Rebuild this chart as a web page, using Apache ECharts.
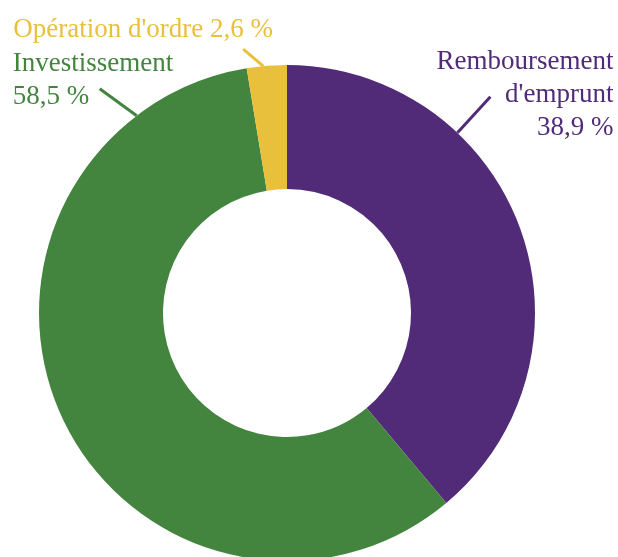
<!DOCTYPE html>
<html>
<head>
<meta charset="utf-8">
<script src="https://cdn.jsdelivr.net/npm/echarts@6/dist/echarts.min.js"></script>
<style>
html,body{margin:0;padding:0;background:#fff;}
#chart{width:618px;height:557px;}
</style>
</head>
<body>
<div id="chart"></div>
<script>
// ---- data ----
const categories = ["Remboursement\nd'emprunt", "Investissement", "Opération d'ordre"];
const values = [38.9, 58.5, 2.6];
const colors = ['#512b77', '#43843f', '#e9c03b'];

// ---- layout (label leader lines & label placement) ----
const CENTER = [287, 313];
const RADIUS = [124, 248];
const anchorAngles = [43.4, 322.7, 354.5];          // degrees clockwise from top, on outer rim
const lineVectors = [[33, -36], [-37, -27], [-20, -17]];
const labelOffsets = [[123, -2], [-87, -8], [-230, -19]];
const labelAligns = ['right', 'left', 'left'];
const labelSeparators = ['\n', '\n', ' '];
const LINE_WIDTH = 3;

function fmt(v) { return v.toFixed(1).replace('.', ',') + ' %'; }

const chart = echarts.init(document.getElementById('chart'), null, {renderer: 'canvas'});
chart.setOption({
  animation: false,
  backgroundColor: '#ffffff',
  series: [{
    type: 'pie',
    center: CENTER,
    radius: RADIUS,
    startAngle: 90,
    clockwise: true,
    avoidLabelOverlap: false,
    itemStyle: {borderWidth: 0},
    label: {
      show: true,
      position: 'outside',
      overflow: 'none',
      fontFamily: 'Liberation Serif',
      fontSize: 27,
      lineHeight: 33,
      formatter: function (p) {
        return p.name + labelSeparators[p.dataIndex] + fmt(p.value);
      }
    },
    labelLine: {show: true, length: 20, length2: 0, lineStyle: {width: LINE_WIDTH}},
    labelLayout: function (params) {
      const i = params.dataIndex;
      const a = anchorAngles[i] * Math.PI / 180;
      const p0 = [CENTER[0] + RADIUS[1] * Math.sin(a), CENTER[1] - RADIUS[1] * Math.cos(a)];
      const p1 = [p0[0] + lineVectors[i][0], p0[1] + lineVectors[i][1]];
      return {
        x: p1[0] + labelOffsets[i][0],
        y: p1[1] + labelOffsets[i][1],
        align: labelAligns[i],
        verticalAlign: 'middle',
        labelLinePoints: [p0, p1, p1]
      };
    },
    data: categories.map(function (c, i) {
      return {
        name: c,
        value: values[i],
        itemStyle: {color: colors[i]},
        label: {color: colors[i]},
        labelLine: {lineStyle: {color: colors[i], width: LINE_WIDTH}}
      };
    })
  }]
});
</script>
</body>
</html>
